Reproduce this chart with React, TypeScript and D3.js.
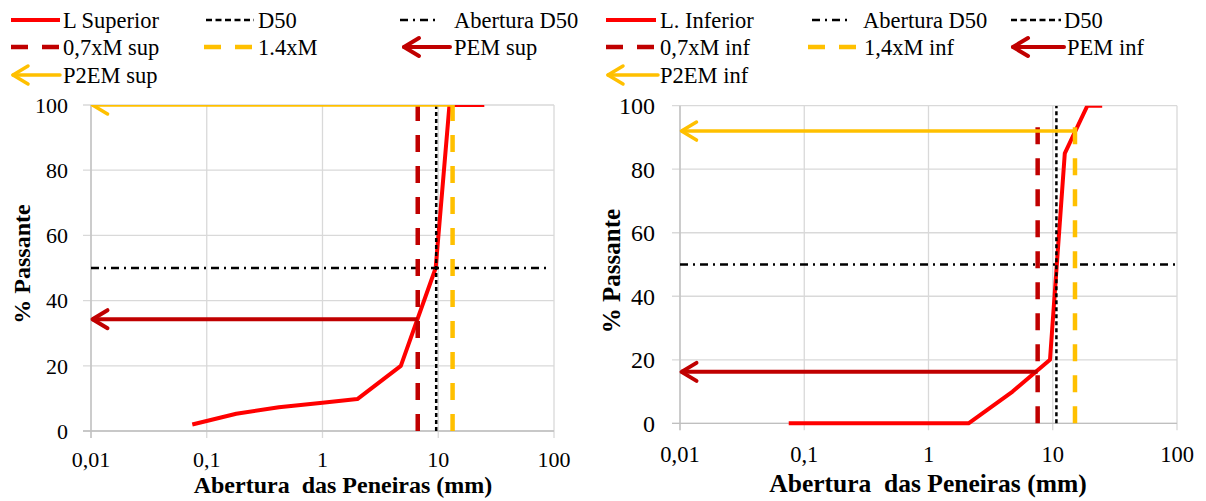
import React from "react";
import * as d3 from "d3";

// shared axis ticks
const xTickValues = [0.01, 0.1, 1, 10, 100];
const xTickLabels = ["0,01", "0,1", "1", "10", "100"];
const yTickValues = [0, 20, 40, 60, 80, 100];

// left chart: L Superior
const supSieve = [0.075, 0.18, 0.42, 1, 2, 4.75, 9.5, 12.5, 25];
const supPass = [2, 5.3, 7.3, 8.7, 9.8, 20, 50, 100, 100];
const supD50 = 9.6;
const supM07 = 6.65;
const supM14 = 13.3;
const supPEM = 34.3;
const supP2EM = 100;
const supLegend = ["L Superior", "D50", "Abertura D50", "0,7xM sup", "1.4xM", "PEM sup", "P2EM sup"];

// right chart: L. Inferior
const infSieve = [0.075, 2.1, 4.75, 9.5, 12.5, 19, 25];
const infPass = [0, 0, 10, 20, 85, 100, 100];
const infD50 = 10.7;
const infM07 = 7.56;
const infM14 = 15.1;
const infPEM = 16.2;
const infP2EM = 92;
const infLegend = ["L. Inferior", "Abertura D50", "D50", "0,7xM inf", "1,4xM inf", "PEM inf", "P2EM inf"];

const RED = "#FF0000";
const DARK = "#C00000";
const YELLOW = "#FFC000";
const GRID = "#D9D9D9";
const FONT = '"Liberation Serif", "Times New Roman", Times, "DejaVu Serif", serif';

const styles: Record<string, any> = {
  solid: { stroke: RED, width: 4, dash: undefined },
  dotted: { stroke: "#000", width: 2.5, dash: "6 3.5" },
  dashdot: { stroke: "#000", width: 2.5, dash: "8 5 2 5" },
  darkdash: { stroke: DARK, width: 4.5, dash: "17 14" },
  yellowdash: { stroke: YELLOW, width: 4.5, dash: "17 14" },
  darkarrow: { stroke: DARK, width: 4, dash: undefined },
  yellowarrow: { stroke: YELLOW, width: 3.5, dash: undefined },
};

const arrowHead = (tx: number, ty: number) => `M${tx + 15},${ty - 9}L${tx},${ty}L${tx + 15},${ty + 9}`;

function Legend({ labels, items }: { labels: string[]; items: any[] }) {
  const rows = [20, 47, 75];
  return (
    <g>
      {items.map((it, i) => {
        const st = styles[it.kind];
        const y = rows[it.row];
        const isArrow = it.kind.endsWith("arrow");
        return (
          <g key={i}>
            <line x1={it.x0} x2={it.x1} y1={y} y2={y} stroke={st.stroke} strokeWidth={st.width}
              strokeDasharray={st.dash} strokeLinecap={isArrow ? "round" : "butt"} />
            {isArrow && (
              <path d={arrowHead(it.x0, y)} fill="none" stroke={st.stroke} strokeWidth={st.width}
                strokeLinecap="round" strokeLinejoin="round" />
            )}
            <text x={it.tx} y={y + 8} style={{ fontSize: 22.5, fontFamily: FONT }}>{labels[i]}</text>
          </g>
        );
      })}
    </g>
  );
}

function Panel(p: any) {
  const x = d3.scaleLog().domain([0.01, 100]).range([p.left, p.right]);
  const y = d3.scaleLinear().domain([0, 100]).range([p.bottom, p.top]);
  const pts = p.sieve.map((s: number, i: number) => [s, p.pass[i]] as [number, number]);
  const line = d3.line<[number, number]>().x((d) => x(d[0])).y((d) => y(d[1]));
  const clip = `clip-${p.id}`;
  const x0 = x(0.01);

  return (
    <g>
      <defs>
        <clipPath id={clip}>
          <rect x={p.left - 3} y={p.top} width={p.right - p.left + 3} height={p.bottom - p.top + 4} />
        </clipPath>
      </defs>
      {/* grid + tick marks */}
      {yTickValues.map((v) => (
        <line key={"h" + v} x1={p.left - 8} x2={p.right} y1={y(v)} y2={y(v)} stroke={GRID} strokeWidth={1.3} />
      ))}
      {xTickValues.map((v) => (
        <line key={"v" + v} x1={x(v)} x2={x(v)} y1={p.top} y2={p.bottom + 7} stroke={GRID} strokeWidth={1.3} />
      ))}
      <line x1={p.left} x2={p.left} y1={p.top} y2={p.bottom + 7} stroke="#BFBFBF" strokeWidth={1.3} />
      <line x1={p.left - 8} x2={p.right} y1={p.bottom} y2={p.bottom} stroke="#BFBFBF" strokeWidth={1.3} />

      {/* tick labels */}
      {yTickValues.map((v) => (
        <text key={"yl" + v} x={p.yLabelEnd} y={y(v)} dy="0.35em" textAnchor="end"
          style={{ fontSize: p.yTickFont, fontFamily: FONT }}>
          {v}
        </text>
      ))}
      {xTickValues.map((v, i) => (
        <text key={"xl" + v} x={x(v)} y={p.xLabelBase} textAnchor="middle"
          style={{ fontSize: p.xTickFont, fontFamily: FONT }}>
          {xTickLabels[i]}
        </text>
      ))}

      {/* titles */}
      <text x={p.xTitleX} y={p.xTitleBase} textAnchor="middle"
        style={{ fontSize: p.xTitleFont, fontWeight: 700, fontFamily: FONT, whiteSpace: "pre" }}>
        {"Abertura  das Peneiras (mm)"}
      </text>
      <text transform={`translate(${p.yTitleX},${p.yTitleY}) rotate(-90)`} textAnchor="middle" dy="0.35em"
        style={{ fontSize: p.yTitleFont, fontWeight: 700, fontFamily: FONT }}>
        % Passante
      </text>

      <g clipPath={`url(#${clip})`}>
        {/* gradation curve */}
        <path d={line(pts) || ""} fill="none" stroke={RED} strokeWidth={4} strokeLinejoin="round" />
        {/* D50 */}
        <line x1={x(p.d50)} x2={x(p.d50)} y1={y(0)} y2={y(100)} stroke="#000" strokeWidth={2.5} strokeDasharray="4 3" />
        {/* Abertura D50 */}
        <line x1={x0} x2={x(p.dashDotEnd)} y1={y(50)} y2={y(50)} stroke="#000" strokeWidth={2.5} strokeDasharray="8 5 2 5" />
        {/* 0,7xM and 1,4xM */}
        <line x1={x(p.m07)} x2={x(p.m07)} y1={y(0)} y2={y(p.dashTop)} stroke={DARK} strokeWidth={4.5} strokeDasharray="17 14" />
        <line x1={x(p.m14)} x2={x(p.m14)} y1={y(0)} y2={y(p.dashTop)} stroke={YELLOW} strokeWidth={4.5} strokeDasharray="17 14" />
        {/* PEM */}
        <line x1={x(p.m07)} x2={x0 + 1} y1={y(p.pem)} y2={y(p.pem)} stroke={DARK} strokeWidth={4} />
        <path d={arrowHead(x0 + 1.5, y(p.pem))} fill="none" stroke={DARK} strokeWidth={4} strokeLinecap="round" strokeLinejoin="round" />
        {/* P2EM */}
        <line x1={x(p.m14)} x2={x0 + 1} y1={y(p.p2em)} y2={y(p.p2em)} stroke={YELLOW} strokeWidth={3.5} />
        <path d={arrowHead(x0 + 1.5, y(p.p2em))} fill="none" stroke={YELLOW} strokeWidth={3.5} strokeLinecap="round" strokeLinejoin="round" />
      </g>
    </g>
  );
}

export default function App() {
  const supItems = [
    { kind: "solid", x0: 11, x1: 60, tx: 63, row: 0 },
    { kind: "dotted", x0: 206, x1: 254, tx: 258, row: 0 },
    { kind: "dashdot", x0: 400, x1: 440, tx: 454, row: 0 },
    { kind: "darkdash", x0: 11, x1: 60, tx: 63, row: 1 },
    { kind: "yellowdash", x0: 204, x1: 254, tx: 258, row: 1 },
    { kind: "darkarrow", x0: 404, x1: 450, tx: 454, row: 1 },
    { kind: "yellowarrow", x0: 13, x1: 60, tx: 63, row: 2 },
  ];
  const infItems = [
    { kind: "solid", x0: 606, x1: 656, tx: 660, row: 0 },
    { kind: "dashdot", x0: 812, x1: 850, tx: 863, row: 0 },
    { kind: "dotted", x0: 1011, x1: 1061, tx: 1064, row: 0 },
    { kind: "darkdash", x0: 606, x1: 656, tx: 660, row: 1 },
    { kind: "yellowdash", x0: 808, x1: 858, tx: 864, row: 1 },
    { kind: "darkarrow", x0: 1013, x1: 1064, tx: 1067, row: 1 },
    { kind: "yellowarrow", x0: 608, x1: 658, tx: 660, row: 2 },
  ];

  return (
    <div>
      <style>{`body{margin:0}`}</style>
      <svg width={1206} height={501} style={{ display: "block", background: "#fff" }}>
        <Legend labels={supLegend} items={supItems} />
        <Legend labels={infLegend} items={infItems} />
        <Panel id="sup" left={91} right={554} top={105} bottom={431}
          sieve={supSieve} pass={supPass} d50={supD50} m07={supM07} m14={supM14} pem={supPEM} p2em={supP2EM}
          dashTop={100} dashDotEnd={90}
          yLabelEnd={68} yTickFont={22} xTickFont={22} xLabelBase={467}
          xTitleX={343} xTitleBase={493} xTitleFont={24}
          yTitleX={22} yTitleY={264} yTitleFont={24} />
        <Panel id="inf" left={680} right={1177} top={105.7} bottom={423.3}
          sieve={infSieve} pass={infPass} d50={infD50} m07={infM07} m14={infM14} pem={infPEM} p2em={infP2EM}
          dashTop={95} dashDotEnd={100}
          yLabelEnd={655} yTickFont={24} xTickFont={22.5} xLabelBase={462}
          xTitleX={928} xTitleBase={492} xTitleFont={25.5}
          yTitleX={611} yTitleY={271} yTitleFont={25} />
      </svg>
    </div>
  );
}
